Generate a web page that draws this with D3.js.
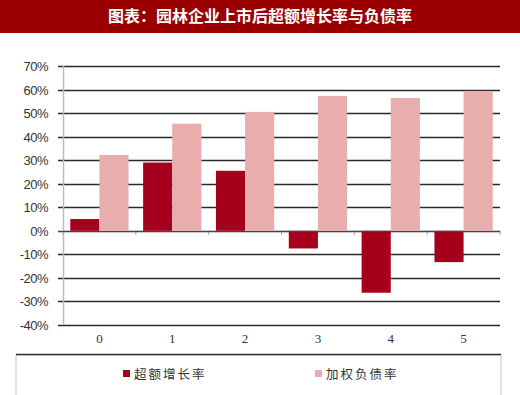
<!DOCTYPE html>
<html>
<head>
<meta charset="utf-8">
<script src="https://cdn.jsdelivr.net/npm/d3@7"></script>
<style>
body{margin:0;background:#fff;}
</style>
</head>
<body>
<div id="chart"></div>
<script>
var categories=["0","1","2","3","4","5"];
var excessGrowth=[5,29,25.5,-7.5,-26.3,-13.3];
var debtRatio=[32.2,45.5,50.5,57.3,56.4,59.4];
var seriesNames=["超额增长率","加权负债率"];
var yTicks=[70,60,50,40,30,20,10,0,-10,-20,-30,-40];

var W=520,H=395;
var svg=d3.select("#chart").append("svg").attr("width",W).attr("height",H);

// title bar
svg.append("rect").attr("x",0).attr("y",0).attr("width",W).attr("height",33).attr("fill","#9b0000");
svg.append("text").attr("x",260).attr("y",22).attr("text-anchor","middle")
  .attr("fill","#fff").style("font-family","'Noto Sans CJK SC'").style("font-weight","bold")
  .style("font-size","16px").text("图表：园林企业上市后超额增长率与负债率");

var plotLeft=63,plotRight=500,plotTop=66,plotBottom=325;

var x=d3.scaleBand().domain(categories).range([plotLeft,plotRight]).paddingInner(0.2).paddingOuter(0.1);
var x1=d3.scaleBand().domain([0,1]).range([0,x.bandwidth()]);
var y=d3.scaleLinear().domain([-40,70]).range([plotBottom,plotTop]);

var g=svg.append("g");

// gridlines
g.selectAll(".grid").data(yTicks).enter().append("line")
  .attr("x1",58).attr("x2",plotRight)
  .attr("y1",function(d){return Math.round(y(d))+0.5;})
  .attr("y2",function(d){return Math.round(y(d))+0.5;})
  .attr("stroke","#2a2a2a").attr("stroke-width",1.3);

// y axis line
g.append("line").attr("x1",63.5).attr("x2",63.5).attr("y1",plotTop).attr("y2",plotBottom)
  .attr("stroke","#bdbdbd").attr("stroke-width",1.5);

// y labels
g.selectAll(".ylab").data(yTicks).enter().append("text")
  .attr("x",48).attr("y",function(d){return y(d)+5;})
  .attr("text-anchor","end").attr("fill","#333")
  .style("font-family","'Liberation Sans'").style("font-size","13px").style("letter-spacing","-0.5px")
  .text(function(d){return d+"%";});

var step=(plotRight-plotLeft)/categories.length;
// small ticks on zero line
g.selectAll(".ztick").data(d3.range(categories.length+1)).enter().append("line")
  .attr("x1",function(d){return plotLeft+d*step;}).attr("x2",function(d){return plotLeft+d*step;})
  .attr("y1",y(0)).attr("y2",y(0)+4).attr("stroke","#999").attr("stroke-width",1);

var colors=["#a5001c","#e8adad"];
var series=[excessGrowth,debtRatio];

series.forEach(function(vals,si){
  g.selectAll(".bar"+si).data(vals).enter().append("rect")
    .attr("x",function(d,i){return x(categories[i])+x1(si);})
    .attr("width",x1.bandwidth())
    .attr("y",function(d){return y(Math.max(0,d));})
    .attr("height",function(d){return Math.abs(y(d)-y(0));})
    .attr("fill",colors[si]);
});

// redraw zero line over bars
g.append("line").attr("x1",58).attr("x2",plotRight).attr("y1",Math.round(y(0))+0.5).attr("y2",Math.round(y(0))+0.5)
  .attr("stroke","#444").attr("stroke-width",1.2);

// x labels
g.selectAll(".xlab").data(categories).enter().append("text")
  .attr("x",function(d){return x(d)+x.bandwidth()/2;}).attr("y",343)
  .attr("text-anchor","middle").attr("fill","#333")
  .style("font-family","'Liberation Serif'").style("font-size","13px")
  .text(function(d){return d;});

// legend
var lg=svg.append("g");
lg.append("rect").attr("x",16).attr("y",355).attr("width",485).attr("height",42)
  .attr("fill","none").attr("stroke","#c8c8c8").attr("stroke-width",1);
lg.append("line").attr("x1",16).attr("x2",501).attr("y1",354.5).attr("y2",354.5)
  .attr("stroke","#333").attr("stroke-width",1.6);
var legX=[123,315];
seriesNames.forEach(function(n,i){
  lg.append("rect").attr("x",legX[i]).attr("y",370).attr("width",7).attr("height",7).attr("fill",colors[i]);
  lg.append("text").attr("x",legX[i]+11).attr("y",379).attr("fill","#333")
    .style("font-family","'Noto Sans CJK SC'").style("font-size","12.5px").style("letter-spacing","2px")
    .text(n);
});
</script>
</body>
</html>
